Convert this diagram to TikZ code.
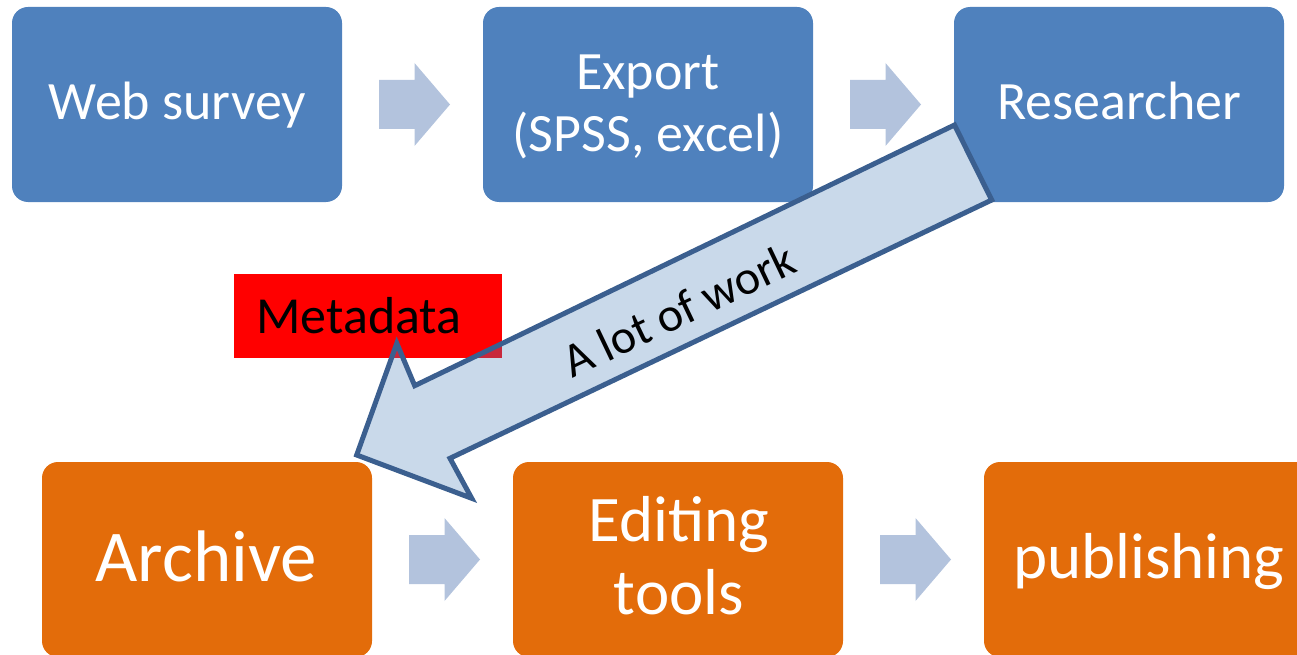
\documentclass[tikz,border=0pt]{standalone}
\usepackage{fontspec}
\setmainfont{Carlito}
\usetikzlibrary{calc}
\definecolor{boxblue}{HTML}{4F81BD}
\definecolor{boxorange}{HTML}{E36C0A}
\definecolor{smallarrow}{HTML}{B3C3DD}
\definecolor{bigfill}{HTML}{C9D9EA}
\definecolor{bigborder}{HTML}{3B5F8F}
\definecolor{overlapred}{HTML}{C8283C}
\begin{document}
\begin{tikzpicture}[x=1pt,y=-1pt,
  procbox/.style={rounded corners=16pt, minimum width=330pt, minimum height=195pt, inner sep=0pt},
  bluebox/.style={procbox, fill=boxblue},
  orangebox/.style={procbox, fill=boxorange},
  lbl/.style={text=white, inner sep=0pt, anchor=base},
  topfont/.style={font=\fontsize{54}{60}\selectfont},
  botfont/.style={font=\fontsize{65}{72}\selectfont},
  blockarrow/.style={fill=smallarrow},
  bigarrow/.style={draw=bigborder, line width=5pt, line join=miter}
]
\useasboundingbox (0,0) rectangle (1297,655);
\clip (0,0) rectangle (1297,655);

% top row
\node[bluebox] (web) at (177,104.5) {};
\node[bluebox] (export) at (648,104.5) {};
\node[bluebox] (res) at (1119,104.5) {};
% bottom row
\node[orangebox] (archive) at (207,559.5) {};
\node[orangebox] (edit) at (678,559.5) {};
\node[orangebox] (pub) at (1149,559.5) {};

% labels
\node[lbl, topfont] (webt) at (177.5,120) {Web survey};
\node[lbl, topfont] (expt1) at (648,90) {Export};
\node[lbl, topfont] (expt2) at (648,152) {(SPSS, excel)};
\node[lbl, topfont] (rest) at (1119.5,120) {Researcher};
\node[lbl, font=\fontsize{73}{80}\selectfont] (archt) at (206,581) {Archive};
\node[lbl, botfont] (editt1) at (679,541) {Editing};
\node[lbl, botfont] (editt2) at (679,614) {tools};
\node[lbl, botfont] (pubt) at (1149,578) {publishing};

% small block arrows between boxes
\coordinate (a1) at ($(web.east)!0.5!(export.west)+(2,0)$);
\coordinate (a2) at ($(export.east)!0.5!(res.west)+(2,0)$);
\coordinate (a3) at ($(archive.east)!0.5!(edit.west)+(2,0)$);
\coordinate (a4) at ($(edit.east)!0.5!(pub.west)+(2,0)$);
\foreach \c in {a1,a2,a3,a4}{
  \begin{scope}[shift={(\c)}]
    \fill[blockarrow] (-35.5,-24.5) -- (0,-24.5) -- (0,-41.5) -- (35.5,0)
      -- (0,41.5) -- (0,24.5) -- (-35.5,24.5) -- cycle;
  \end{scope}
}

% big arrow from researcher to archive
\coordinate (b1) at (954.5,125);
\coordinate (b2) at (414.7,385.7);
\coordinate (b3) at (396.8,343.3);
\coordinate (b4) at (356.7,455);
\coordinate (b5) at (471.7,498.3);
\coordinate (b6) at (450,458.3);
\coordinate (b7) at (991.7,200);
\fill[bigfill] (b1) -- (b2) -- (b3) -- (b4) -- (b5) -- (b6) -- (b7) -- cycle;

% metadata box
\node[fill=red, minimum width=268pt, minimum height=84pt, inner sep=0pt] (meta) at (368,316) {};
\begin{scope}
  \clip (b1) -- (b2) -- (b3) -- (b4) -- (b5) -- (b6) -- (b7) -- cycle;
  \fill[overlapred] (meta.north west) rectangle (meta.south east);
\end{scope}
\draw[bigarrow] (b1) -- (b2) -- (b3) -- (b4) -- (b5) -- (b6) -- (b7) -- cycle;

\node[text=black, inner sep=0pt, anchor=base, font=\fontsize{52}{58}\selectfont] (metat) at (359,333) {Metadata};
\node[text=black, inner sep=0pt, anchor=base, rotate=25.5, font=\fontsize{48}{54}\selectfont] (work) at (686,325) {A lot of work};
\end{tikzpicture}
\end{document}
